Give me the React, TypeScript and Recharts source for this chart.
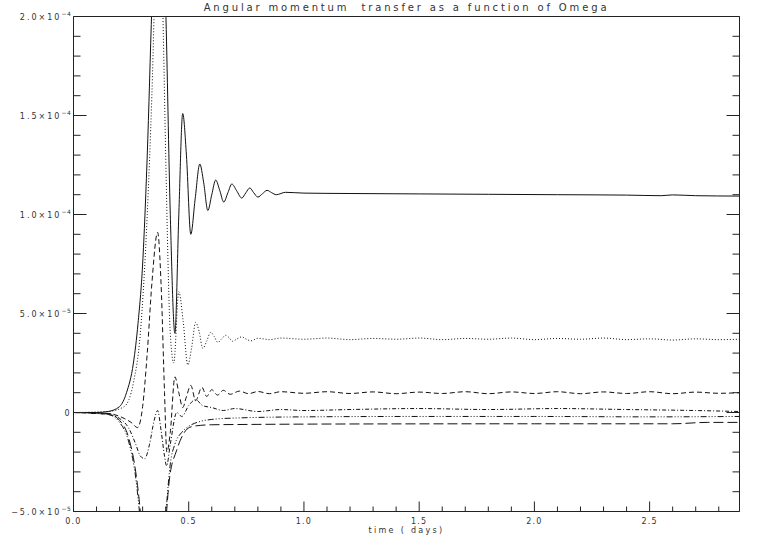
import React from "react";
import { LineChart, Line, XAxis, YAxis, Label } from "recharts";

// time in days, angular momentum transfer in units of 1e-5
const curveSolid: [number, number][] = [
  [0, 0], [0.1, 0], [0.15, 0.05], [0.2, 0.3], [0.23, 1], [0.26, 2.5], [0.28, 4.5], [0.3, 7.5],
  [0.32, 13], [0.34, 20.5], [0.36, 27], [0.38, 27], [0.4, 20.5], [0.42, 10], [0.44, 4.0],
  [0.457, 10], [0.474, 15.1], [0.49, 13], [0.509, 9.0], [0.528, 10.8], [0.548, 12.55],
  [0.565, 11.6], [0.583, 10.2], [0.6, 11.0], [0.617, 11.74], [0.635, 11.2], [0.652, 10.63],
  [0.67, 11.1], [0.687, 11.54], [0.708, 11.2], [0.73, 10.83], [0.748, 11.1], [0.765, 11.34],
  [0.782, 11.1], [0.8, 10.88], [0.82, 11.05], [0.84, 11.22], [0.86, 11.1], [0.88, 11.0],
  [0.92, 11.12], [1.0, 11.08], [1.2, 11.06], [1.5, 11.04], [1.8, 11.02], [2.1, 11.0],
  [2.4, 10.98], [2.55, 10.95], [2.6, 10.99], [2.7, 10.95], [2.89, 10.93],
];

const curveDotted: [number, number][] = [
  [0, 0], [0.15, 0.05], [0.22, 0.3], [0.26, 1.5], [0.29, 4], [0.32, 10], [0.34, 16], [0.36, 24],
  [0.375, 26], [0.39, 19], [0.4, 13], [0.42, 4], [0.435, 2.5], [0.457, 6.1], [0.476, 4.6],
  [0.496, 2.4], [0.513, 3.3], [0.53, 4.55], [0.545, 4.1], [0.561, 3.24], [0.578, 3.6],
  [0.595, 4.05], [0.61, 3.85], [0.626, 3.54], [0.643, 3.72], [0.66, 3.9], [0.675, 3.78],
  [0.69, 3.6], [0.71, 3.72], [0.73, 3.82], [0.75, 3.7], [0.77, 3.62], [0.8, 3.75], [0.85, 3.68],
  [0.9, 3.76], [1.0, 3.7], [1.1, 3.76], [1.2, 3.68], [1.3, 3.74], [1.4, 3.7], [1.5, 3.76],
  [1.6, 3.68], [1.7, 3.74], [1.8, 3.7], [1.9, 3.76], [2.0, 3.68], [2.1, 3.74], [2.2, 3.7],
  [2.3, 3.76], [2.4, 3.68], [2.5, 3.72], [2.6, 3.66], [2.7, 3.72], [2.8, 3.68], [2.89, 3.7],
];

const curveDashed: [number, number][] = [
  [0, 0], [0.15, -0.05], [0.22, -0.3], [0.25, -0.5], [0.278, -0.76], [0.3, 0.3], [0.32, 3],
  [0.34, 6.5], [0.365, 9.1], [0.38, 6.5], [0.395, 1], [0.405, -2], [0.42, -1], [0.44, 1.8],
  [0.457, 1.0], [0.474, 0.25], [0.49, 0.8], [0.509, 1.37], [0.53, 0.6], [0.557, 1.27],
  [0.578, 0.81], [0.6, 1.15], [0.625, 0.88], [0.65, 1.12], [0.68, 0.92], [0.72, 1.08],
  [0.76, 0.95], [0.8, 1.06], [0.85, 0.95], [0.9, 1.05], [1.0, 0.97], [1.1, 1.05], [1.2, 0.96],
  [1.3, 1.04], [1.4, 0.95], [1.5, 1.03], [1.6, 0.96], [1.7, 1.05], [1.8, 0.95], [1.9, 1.04],
  [2.0, 0.96], [2.1, 1.05], [2.2, 0.95], [2.3, 1.04], [2.4, 0.96], [2.5, 1.05], [2.6, 0.95],
  [2.7, 1.03], [2.8, 0.97], [2.89, 1.0],
];

const curveDashDot: [number, number][] = [
  [0, 0], [0.15, -0.1], [0.2, -0.3], [0.24, -0.8], [0.27, -1.6], [0.29, -2.2], [0.309, -2.33],
  [0.33, -1.6], [0.35, -0.4], [0.365, 0.1], [0.38, -0.9], [0.395, -2.2], [0.404, -2.7],
  [0.42, -1.6], [0.448, 0], [0.47, -0.2], [0.5, 0.35], [0.53, 0.65], [0.56, 0.35], [0.6, 0.25],
  [0.65, 0.1], [0.7, 0.2], [0.8, 0.05], [0.9, 0.15], [1.0, 0.1], [1.2, 0.15], [1.5, 0.2],
  [1.8, 0.15], [2.1, 0.2], [2.4, 0.15], [2.7, 0.1], [2.89, 0.05],
];

const curveDashDotDot: [number, number][] = [
  [0, 0], [0.15, -0.1], [0.2, -0.5], [0.24, -1.5], [0.27, -3.3], [0.29, -5.5], [0.31, -8.5],
  [0.34, -11], [0.37, -10], [0.39, -7], [0.405, -4.5], [0.42, -2.6], [0.44, -1.6], [0.47, -1.0],
  [0.5, -0.7], [0.55, -0.45], [0.6, -0.35], [0.7, -0.28], [1.0, -0.22], [1.5, -0.2],
  [2.0, -0.2], [2.5, -0.22], [2.89, -0.2],
];

const curveLongDash: [number, number][] = [
  [0, 0], [0.15, -0.05], [0.2, -0.4], [0.24, -1.3], [0.27, -3], [0.29, -5], [0.31, -8],
  [0.34, -12], [0.37, -11], [0.39, -7.5], [0.404, -5], [0.417, -3.3], [0.448, -1.9],
  [0.504, -0.75], [0.55, -0.65], [0.6, -0.62], [0.8, -0.6], [1.2, -0.58], [2.0, -0.57],
  [2.6, -0.57], [2.75, -0.5], [2.89, -0.5],
];

const xTicks = [
  0, 0.1, 0.2, 0.3, 0.4, 0.5, 0.6, 0.7, 0.8, 0.9, 1.0, 1.1, 1.2, 1.3, 1.4, 1.5,
  1.6, 1.7, 1.8, 1.9, 2.0, 2.1, 2.2, 2.3, 2.4, 2.5, 2.6, 2.7, 2.8,
];
const yTicks = [
  -5, -4, -3, -2, -1, 0, 1, 2, 3, 4, 5, 6, 7, 8, 9, 10, 11, 12, 13, 14, 15, 16, 17, 18, 19, 20,
];
const yLabels: Record<string, [string, string]> = {
  "20": ["2.0×10", "−4"],
  "15": ["1.5×10", "−4"],
  "10": ["1.0×10", "−4"],
  "5": ["5.0×10", "−5"],
  "0": ["0", ""],
  "-5": ["−5.0×10", "−5"],
};

const series = [
  { name: "a", pts: curveSolid, dash: undefined },
  { name: "b", pts: curveDotted, dash: "1 2" },
  { name: "c", pts: curveDashed, dash: "5 3" },
  { name: "d", pts: curveDashDot, dash: "4 2 1 2" },
  { name: "e", pts: curveDashDotDot, dash: "6 2 1 2 1 2 1 2" },
  { name: "f", pts: curveLongDash, dash: "10 4" },
];

const INK = "#222";
const FONT = "'DejaVu Sans', sans-serif";

const isMajorX = (v: number) => Math.abs(v * 2 - Math.round(v * 2)) < 1e-6;
const isMajorY = (v: number) => Math.abs(v / 5 - Math.round(v / 5)) < 1e-6;

function BottomTick({ x, y, payload }: any) {
  const major = isMajorX(payload.value);
  return (
    <g>
      <line x1={x} x2={x} y1={y} y2={y - (major ? 10 : 5)} stroke={INK} />
      {major && (
        <text x={x} y={y + 12} textAnchor="middle" fontSize={8} fontFamily={FONT} letterSpacing={1.2} fill="#333">
          {payload.value.toFixed(1)}
        </text>
      )}
    </g>
  );
}

function TopTick({ x, y, payload }: any) {
  const major = isMajorX(payload.value);
  return <line x1={x} x2={x} y1={y} y2={y + (major ? 10 : 5)} stroke={INK} />;
}

function LeftTick({ x, y, payload }: any) {
  const major = isMajorY(payload.value);
  const lab = yLabels[String(Math.round(payload.value))];
  return (
    <g>
      <line x1={x} x2={x + (major ? 13 : 7)} y1={y} y2={y} stroke={INK} />
      {major && lab && (
        <text x={x - 2} y={y + 3} textAnchor="end" fontSize={8} fontFamily={FONT} letterSpacing={2} fill="#333">
          {lab[0]}
          {lab[1] && (
            <tspan dy={-4} fontSize={6} letterSpacing={0.6}>
              {lab[1]}
            </tspan>
          )}
        </text>
      )}
    </g>
  );
}

function RightTick({ x, y, payload }: any) {
  const major = isMajorY(payload.value);
  return <line x1={x} x2={x - (major ? 13 : 7)} y1={y} y2={y} stroke={INK} />;
}

export default function App() {
  return (
    <div style={{ position: "absolute", left: 0, top: 0, background: "#fff" }}>
      <LineChart width={763} height={545} margin={{ top: 15.5, right: 22.5, bottom: 32.5, left: 72.5 }}>
        <XAxis
          type="number"
          dataKey="t"
          domain={[0, 2.89]}
          allowDataOverflow
          ticks={xTicks}
          interval={0}
          height={1}
          tickSize={0}
          tickMargin={0}
          tick={BottomTick}
          axisLine={{ stroke: INK }}
        >
          <Label value="time ( days)" position="bottom" offset={15} fontSize={8} fontFamily={FONT} letterSpacing={2.3} fill="#333" />
        </XAxis>
        <XAxis
          xAxisId="top"
          orientation="top"
          type="number"
          domain={[0, 2.89]}
          allowDataOverflow
          ticks={xTicks}
          interval={0}
          height={1}
          tickSize={0}
          tickMargin={0}
          tick={TopTick}
          axisLine={{ stroke: INK }}
        >
          <Label
            value={"Angular momentum\u00a0 transfer as a function of Omega"}
            position="top"
            offset={5}
            fontSize={10}
            fontFamily={FONT}
            letterSpacing={2.85}
            fill="#333"
          />
        </XAxis>
        <YAxis
          type="number"
          domain={[-5, 20]}
          allowDataOverflow
          ticks={yTicks}
          interval={0}
          width={1}
          tickSize={0}
          tickMargin={0}
          tick={LeftTick}
          axisLine={{ stroke: INK }}
        />
        <YAxis
          yAxisId="right"
          orientation="right"
          type="number"
          domain={[-5, 20]}
          allowDataOverflow
          ticks={yTicks}
          interval={0}
          width={1}
          tickSize={0}
          tickMargin={0}
          tick={RightTick}
          axisLine={{ stroke: INK }}
        />
        {series.map((s) => (
          <Line
            key={s.name}
            data={s.pts.map(([t, v]) => ({ t, v }))}
            dataKey="v"
            type="monotone"
            stroke="#111"
            strokeWidth={1}
            strokeDasharray={s.dash}
            dot={false}
            activeDot={false}
            isAnimationActive={false}
          />
        ))}
      </LineChart>
    </div>
  );
}
